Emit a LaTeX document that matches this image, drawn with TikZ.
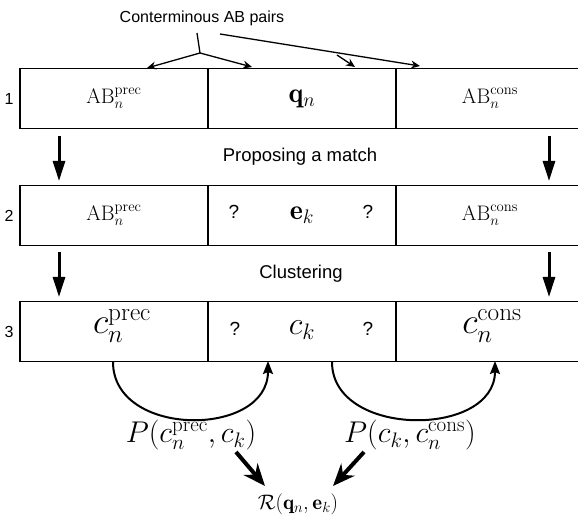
\RequirePackage{fix-cm}
\documentclass[tikz,border=0pt]{standalone}
\usepackage{amsmath}
\usepackage{fontspec}
\newfontfamily\labelfont{Liberation Sans}
\usetikzlibrary{arrows.meta}

\tikzset{
  cell/.style={draw, line width=1.6pt, minimum width=188pt, minimum height=60pt,
    inner sep=0pt, outer sep=0pt},
  caption/.style={font=\labelfont\fontsize{16}{19}\selectfont, inner sep=0pt},
  stagecaption/.style={font=\labelfont\fontsize{18.5}{22}\selectfont, inner sep=0pt},
  rownum/.style={font=\labelfont\fontsize{16}{19}\selectfont, inner sep=0pt},
  qmark/.style={font=\labelfont\fontsize{19}{22}\selectfont, inner sep=0pt},
  smallmath/.style={font=\fontsize{21}{25}\selectfont, inner sep=0pt},
  midmath/.style={font=\fontsize{28}{33}\selectfont, inner sep=0pt},
  clustermath/.style={font=\fontsize{32}{37}\selectfont, inner sep=0pt},
  bigmath/.style={font=\fontsize{36}{42}\selectfont, inner sep=0pt},
  labelmath/.style={font=\fontsize{30}{35}\selectfont, inner sep=0pt},
  steparrow/.style={line width=3pt, -{Triangle[length=20pt, width=12pt]}},
  pointer/.style={line width=1.3pt, -{Stealth[length=9pt, width=8pt, inset=3pt]}},
  linkarc/.style={line width=2pt, -{Stealth[length=13pt, width=10pt, inset=2pt]}},
  mergearrow/.style={line width=4pt, -{Stealth[length=22pt, width=18pt, inset=7pt]}},
}

\begin{document}
\begin{tikzpicture}[x=1pt, y=-1pt]
  \useasboundingbox (0,0) rectangle (578,518);
  \clip (0,0) rectangle (578,518);

  % row 1
  \node[cell] (a1) at (114,98.5) {};
  \node[cell] (b1) at (302,98.5) {};
  \node[cell] (c1) at (490,98.5) {};
  \node[smallmath] at (a1.center) {$\mathrm{AB}_n^{\mathrm{prec}}$};
  \node[midmath] at (b1.center) {$\mathbf{q}_n$};
  \node[smallmath] at (c1.center) {$\mathrm{AB}_n^{\mathrm{cons}}$};
  \node[rownum] (r1) at (9,98.5) {1};

  % row 2
  \node[cell] (a2) at (114,215.5) {};
  \node[cell] (b2) at (302,215.5) {};
  \node[cell] (c2) at (490,215.5) {};
  \node[smallmath] at (a2.center) {$\mathrm{AB}_n^{\mathrm{prec}}$};
  \node[midmath] at (b2.center) {$\mathbf{e}_k$};
  \node[qmark] at (234,212) {?};
  \node[qmark] at (368,212) {?};
  \node[smallmath] at (c2.center) {$\mathrm{AB}_n^{\mathrm{cons}}$};
  \node[rownum] (r2) at (9,215.5) {2};

  % row 3
  \node[cell] (a3) at (114,331.5) {};
  \node[cell] (b3) at (302,331.5) {};
  \node[cell] (c3) at (490,331.5) {};
  \node[bigmath] at (122,326) {$c_n^{\mathrm{prec}}$};
  \node[clustermath] at (302,330) {$c_k$};
  \node[qmark] at (235,329) {?};
  \node[qmark] at (368,329) {?};
  \node[bigmath] at (492,326) {$c_n^{\mathrm{cons}}$};
  \node[rownum] (r3) at (9,331.5) {3};

  % annotation pointing at the conterminous pairs
  \node[caption] (pairs) at (202,18) {Conterminous AB pairs};
  \coordinate (fork) at (200,53);
  \coordinate (split) at (337,55);
  \coordinate (t1) at (147,68);
  \coordinate (t2) at (252,67);
  \coordinate (t3) at (355,67);
  \coordinate (t4) at (420,66);
  \draw[line width=1.3pt] (197,33) -- (fork);
  \draw[pointer] (fork) -- (t1);
  \draw[pointer] (fork) -- (t2);
  \draw[pointer] (220,34) -- (t4);
  \draw[pointer] (split) -- (t3);

  % stage captions
  \node[stagecaption] (propose) at (300,157) {Proposing a match};
  \node[stagecaption] (cluster) at (301,274) {Clustering};

  % downward step arrows between the rows
  \coordinate (d1l) at (59,136);  \coordinate (e1l) at (59,181);
  \coordinate (d1r) at (549,136); \coordinate (e1r) at (549,181);
  \coordinate (d2l) at (59,252);  \coordinate (e2l) at (59,297);
  \coordinate (d2r) at (549,252); \coordinate (e2r) at (549,297);
  \draw[steparrow] (d1l) -- (e1l);
  \draw[steparrow] (d1r) -- (e1r);
  \draw[steparrow] (d2l) -- (e2l);
  \draw[steparrow] (d2r) -- (e2r);

  % pairwise links under row 3
  \coordinate (l1s) at (113,362);
  \coordinate (l1e) at (268,361);
  \coordinate (l2s) at (332,362);
  \coordinate (l2e) at (495,361);
  \draw[linkarc] (l1s) .. controls (113,438) and (268,438) .. (l1e);
  \draw[linkarc] (l2s) .. controls (332,438) and (495,438) .. (l2e);

  \node[labelmath] (p1) at (191,435) {$P(c_n^{\mathrm{prec}},c_k)$};
  \node[labelmath] (p2) at (410,435) {$P(c_k,c_n^{\mathrm{cons}})$};

  \node[font=\fontsize{21}{25}\selectfont, inner sep=0pt] (score) at (298,504)
    {$\mathcal{R}(\mathbf{q}_n,\mathbf{e}_k)$};
  \coordinate (m1s) at (236,452); \coordinate (m1e) at (265,486);
  \coordinate (m2s) at (364,452); \coordinate (m2e) at (333,486);
  \draw[mergearrow] (m1s) -- (m1e);
  \draw[mergearrow] (m2s) -- (m2e);
\end{tikzpicture}
\end{document}
